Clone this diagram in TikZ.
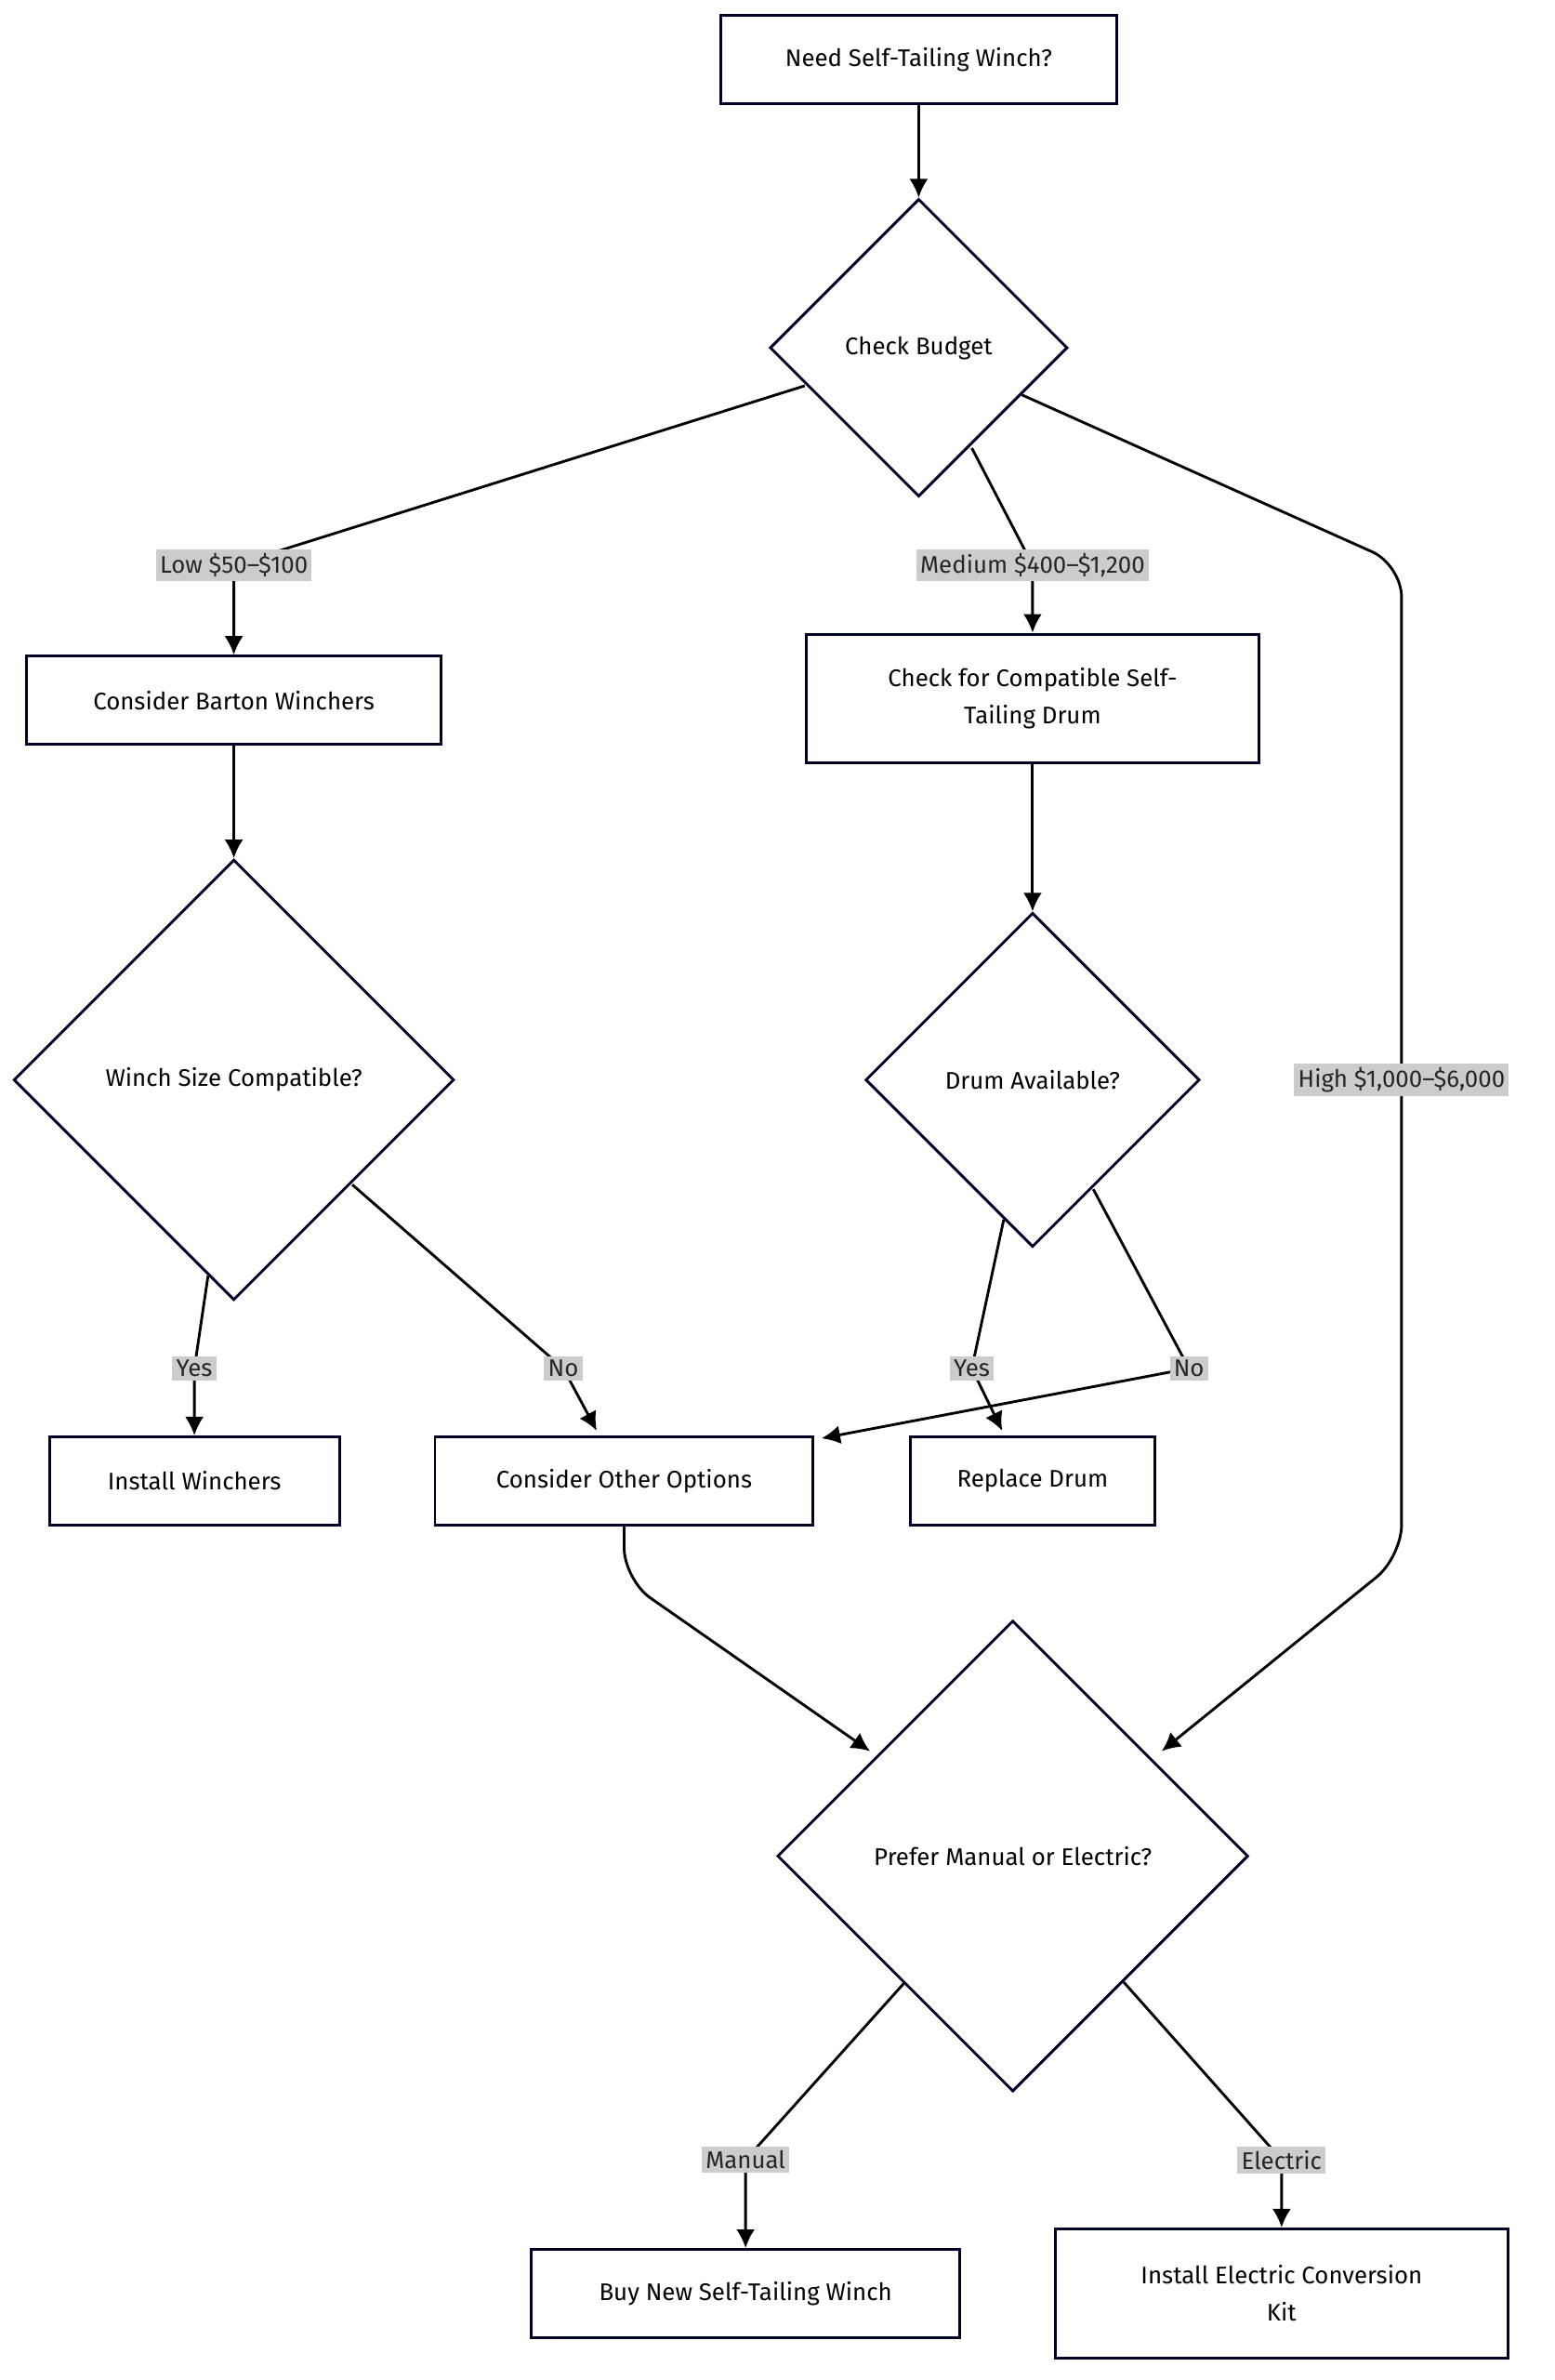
\documentclass[tikz,border=0pt]{standalone}
\usepackage{fontspec}
\setmainfont{Fira Sans}
\usetikzlibrary{shapes.geometric,arrows.meta}
\begin{document}
\begin{tikzpicture}[
  x=0.02cm,y=-0.02cm,
  box/.style={rectangle,draw=black!85!blue,line width=1pt,fill=white,font=\small,align=center,inner sep=0pt},
  decide/.style={diamond,aspect=1,draw=black!85!blue,line width=1pt,fill=white,font=\small,inner sep=0pt},
  lbl/.style={fill=black!20,font=\small,inner sep=1.5pt,text=black!85},
  flow/.style={line width=1pt,-{Latex[length=7pt,width=7pt]}},
  pline/.style={line width=1pt}
]
\useasboundingbox (0,0) rectangle (1024,1567);

% nodes
\node[box,minimum width=261*0.02cm,minimum height=58*0.02cm] (need) at (605,39) {Need Self-Tailing Winch?};
\node[decide,minimum size=196*0.02cm] (budget) at (605,229) {Check Budget};
\node[box,minimum width=273*0.02cm,minimum height=58*0.02cm] (barton) at (154,461) {Consider Barton Winchers};
\node[box,minimum width=298*0.02cm,minimum height=85*0.02cm] (compat) at (680,460) {Check for Compatible Self-\\[3pt]Tailing Drum};
\node[decide,minimum size=290*0.02cm] (size) at (154,711) {Winch Size Compatible?};
\node[decide,minimum size=220*0.02cm] (drum) at (680,711) {Drum Available?};
\node[box,minimum width=191*0.02cm,minimum height=58*0.02cm] (install) at (128,975) {Install Winchers};
\node[box,minimum width=249*0.02cm,minimum height=58*0.02cm] (other) at (411,975) {Consider Other Options};
\node[box,minimum width=161*0.02cm,minimum height=58*0.02cm] (replace) at (680,975) {Replace Drum};
\node[decide,minimum size=310*0.02cm] (prefer) at (667,1222) {Prefer Manual or Electric?};
\node[box,minimum width=282*0.02cm,minimum height=58*0.02cm] (buy) at (491,1510) {Buy New Self-Tailing Winch};
\node[box,minimum width=298*0.02cm,minimum height=85*0.02cm] (kit) at (844,1510) {Install Electric Conversion\\[3pt]Kit};

% label points
\coordinate (cLow) at (154,372);
\coordinate (cMed) at (680,372);
\coordinate (cHigh) at (923,711);
\coordinate (cY1) at (128,901);
\coordinate (cN1) at (371,901);
\coordinate (cY2) at (640,901);
\coordinate (cN2) at (783,901);
\coordinate (cMan) at (491,1422);
\coordinate (cEl) at (844,1422);

% connectors
\draw[flow] (need) -- (budget);
\draw[flow] (530,254) -- (cLow) -- (barton);
\draw[flow] (640,295) -- (cMed) -- (compat);
\draw[flow,rounded corners=12pt] (673,260) -- (923,372) -- (923,1025) -- (765,1153);
\draw[flow] (barton) -- (size);
\draw[flow] (compat) -- (drum);
\draw[flow] (137,840) -- (cY1) -- (install);
\draw[flow] (232,780) -- (cN1) -- (393,942);
\draw[flow] (661,803) -- (cY2) -- (660,942);
\draw[flow] (720,783) -- (cN2) -- (541,947);
\draw[flow,rounded corners=12pt] (other.south) -- (411,1040) -- (573,1153);
\draw[flow] (596,1305) -- (cMan) -- (buy);
\draw[flow] (740,1305) -- (cEl) -- (kit);

% labels
\node[lbl] (low) at (cLow) {Low \$50–\$100};
\node[lbl] (med) at (cMed) {Medium \$400–\$1,200};
\node[lbl] (high) at (cHigh) {High \$1,000–\$6,000};
\node[lbl] (yes1) at (cY1) {Yes};
\node[lbl] (no1) at (cN1) {No};
\node[lbl] (yes2) at (cY2) {Yes};
\node[lbl] (no2) at (cN2) {No};
\node[lbl] (man) at (cMan) {Manual};
\node[lbl] (el) at (cEl) {Electric};
\end{tikzpicture}
\end{document}
